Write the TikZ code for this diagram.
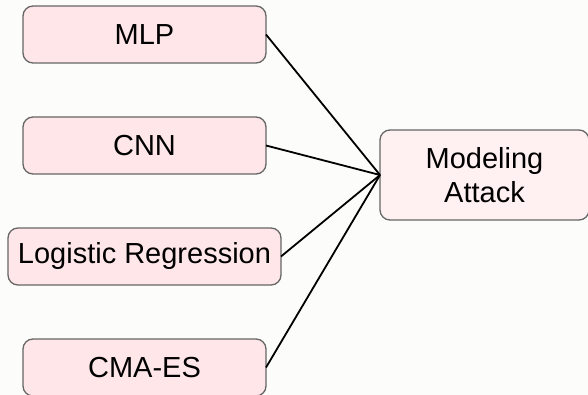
\documentclass[tikz,border=0pt]{standalone}
\usepackage{fontspec}
\setmainfont{Liberation Sans}
\definecolor{pagebg}{HTML}{FCFCFA}
\definecolor{boxfill}{HTML}{FFE6E8}
\definecolor{targetfill}{HTML}{FFF1F1}
\definecolor{boxline}{HTML}{666666}
\tikzset{
  method/.style={draw=boxline, line width=1.3pt, rounded corners=10pt, fill=boxfill,
    inner sep=0pt, outer sep=0pt, minimum height=57pt, font=\fontsize{29}{34}\selectfont},
  target/.style={method, fill=targetfill, align=center, minimum width=209pt, minimum height=90pt},
  link/.style={line width=1.8pt, black}
}
\begin{document}
\begin{tikzpicture}[x=1pt,y=-1pt]
  \fill[pagebg] (0,0) rectangle (588,395);
  \useasboundingbox (0,0) rectangle (588,395);

  \node[method, minimum width=243pt] (mlp) at (144.5,34.5) {MLP};
  \node[method, minimum width=243pt] (cnn) at (144.5,145.5) {CNN};
  \node[method, minimum width=273pt] (lr)  at (144.5,256.5) {Logistic Regression};
  \node[method, minimum width=243pt] (cma) at (144.5,367.5) {CMA-ES};
  \node[target] (ma) at (484.5,175) {Modeling\\Attack};

  \foreach \src in {mlp,cnn,lr,cma}
    \draw[link] (\src.east) -- (ma.west);
\end{tikzpicture}
\end{document}
